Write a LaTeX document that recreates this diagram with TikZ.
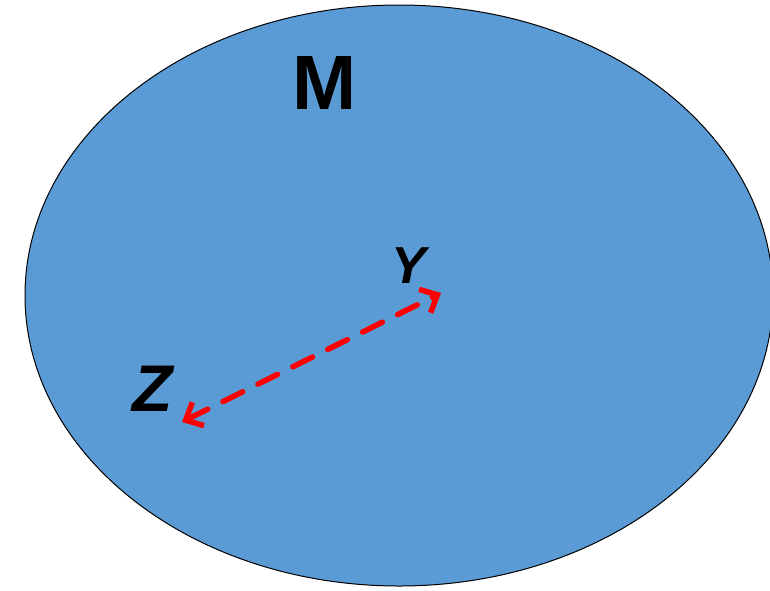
\documentclass[tikz,border=0pt]{standalone}
\usepackage{fontspec}
\setmainfont{Liberation Sans}
\usetikzlibrary{arrows.meta,shapes.geometric}
\definecolor{setblue}{HTML}{5B9BD5}
\definecolor{pathred}{HTML}{FF0000}
\tikzset{
  setshape/.style={fill=setblue,draw=black,line width=1pt},
  biglabel/.style={font=\bfseries\fontsize{77}{77}\selectfont,inner sep=0pt},
  ptlabel/.style={inner sep=0pt},
  redpath/.style={draw=pathred,line width=5.5pt,line cap=round,dash pattern=on 22pt off 17pt,
    {Straight Barb[length=14pt,width=26pt,line width=5.5pt]}-{Straight Barb[length=14pt,width=26pt,line width=5.5pt]}}
}
\begin{document}
\begin{tikzpicture}[x=1pt,y=1pt]
\useasboundingbox (0,0) rectangle (770,-590);
\clip (0,0) rectangle (770,-590);
\node[setshape,ellipse,minimum width=748pt,minimum height=581pt,inner sep=0pt] (M) at (399,-295.5) {};
\node[biglabel] (Mlab) at (325,-83) {M};
\node[ptlabel,font=\bfseries\itshape\fontsize{52}{52}\selectfont] (Y) at (409,-266) {Y};
\node[ptlabel,font=\bfseries\itshape\fontsize{66}{66}\selectfont] (Z) at (153,-389) {Z};
\coordinate (yend) at (441,-293);
\coordinate (zend) at (182,-422);
\draw[redpath] (zend) -- (yend);
\end{tikzpicture}
\end{document}
